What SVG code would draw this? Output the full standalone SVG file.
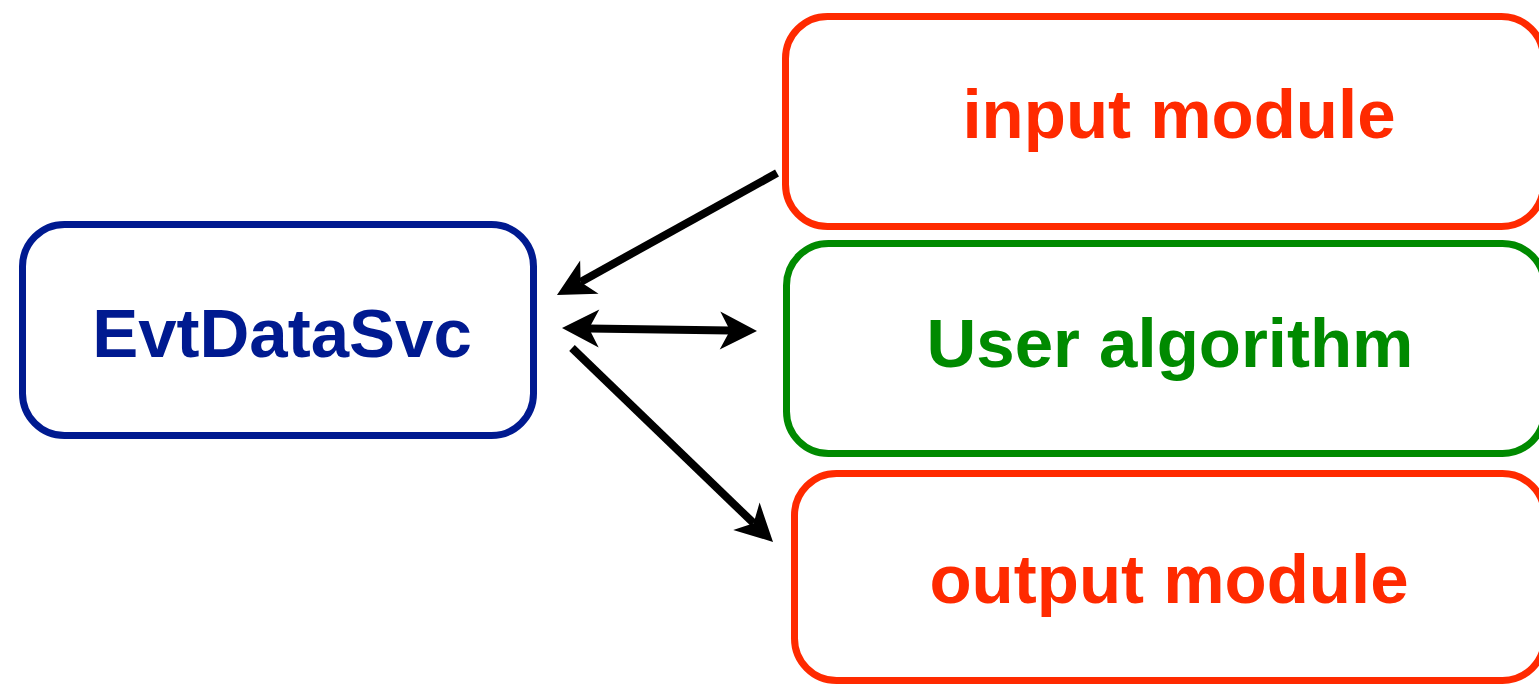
<svg xmlns="http://www.w3.org/2000/svg" width="1539" height="685" viewBox="0 0 1539 685">
  <style>
    .box { fill: #ffffff; stroke-width: 7; }
    .label { font-family: "Liberation Sans", Arial, sans-serif; font-weight: bold; font-size: 69px; text-anchor: middle; }
    .blue { stroke: #001a90; }
    .red { stroke: #ff2a00; }
    .green { stroke: #008a00; }
    .link { stroke: #000000; stroke-width: 8; fill: none; }
  </style>
  <defs>
    <marker id="head" markerUnits="userSpaceOnUse" viewBox="-12 -20 42 40" markerWidth="42" markerHeight="40" refX="0" refY="0" orient="auto-start-reverse">
      <path d="M27,0 L-10,-19 L0,0 L-10,19 Z" fill="#000000"/>
    </marker>
  </defs>

  <g id="evtdatasvc">
    <rect class="box blue" x="22.5" y="224.5" width="511" height="211" rx="42" ry="42"/>
    <text class="label" x="282" y="357" fill="#001a90">EvtDataSvc</text>
  </g>

  <g id="input-module">
    <rect class="box red" x="785.5" y="16.5" width="758" height="210" rx="42" ry="42"/>
    <text class="label" x="1179" y="138" fill="#ff2a00">input module</text>
  </g>

  <g id="user-algorithm">
    <rect class="box green" x="786.5" y="243.5" width="758" height="210" rx="42" ry="42"/>
    <text class="label" x="1170" y="367" fill="#008a00">User algorithm</text>
  </g>

  <g id="output-module">
    <rect class="box red" x="794.5" y="473.5" width="750" height="207" rx="42" ry="42"/>
    <text class="label" x="1169" y="603" fill="#ff2a00">output module</text>
  </g>

  <g id="connectors">
    <line class="link" x1="777" y1="173" x2="580.6" y2="281.9" marker-end="url(#head)"/>
    <line class="link" x1="589" y1="328.4" x2="730" y2="330.6" marker-start="url(#head)" marker-end="url(#head)"/>
    <line class="link" x1="572" y1="348" x2="753.6" y2="523.2" marker-end="url(#head)"/>
  </g>
</svg>
